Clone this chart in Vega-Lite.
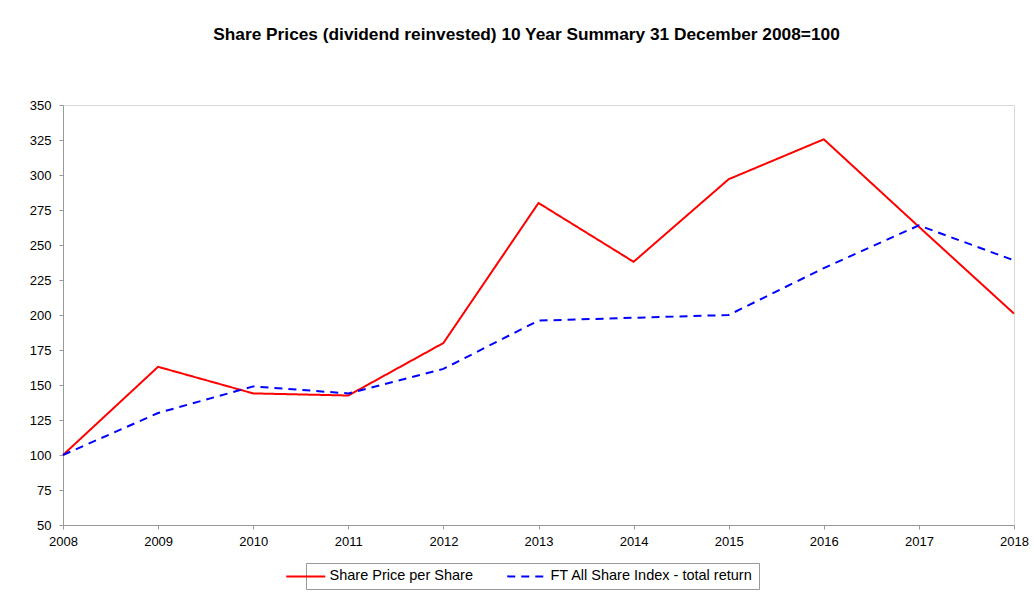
{
  "$schema": "https://vega.github.io/schema/vega-lite/v6.json",
  "autosize": "none",
  "width": 951,
  "height": 420,
  "padding": {"left": 63, "top": 105, "right": 20, "bottom": 70},
  "background": "white",
  "title": {
    "text": "Share Prices (dividend reinvested) 10 Year Summary 31 December 2008=100",
    "font": "Liberation Sans",
    "fontSize": 17.3,
    "fontWeight": "bold",
    "color": "black",
    "anchor": "middle",
    "offset": 56,
    "dx": -12
  },
  "config": {
    "font": "Liberation Sans",
    "view": {"stroke": "#d8d8d8", "strokeWidth": 1}
  },
  "data": {
    "values": [
      {"year": 2008, "series": "Share Price per Share", "value": 100},
      {"year": 2009, "series": "Share Price per Share", "value": 163},
      {"year": 2010, "series": "Share Price per Share", "value": 144},
      {"year": 2011, "series": "Share Price per Share", "value": 142.5},
      {"year": 2012, "series": "Share Price per Share", "value": 180},
      {"year": 2013, "series": "Share Price per Share", "value": 280},
      {"year": 2014, "series": "Share Price per Share", "value": 238},
      {"year": 2015, "series": "Share Price per Share", "value": 297},
      {"year": 2016, "series": "Share Price per Share", "value": 325.5},
      {"year": 2017, "series": "Share Price per Share", "value": 263},
      {"year": 2018, "series": "Share Price per Share", "value": 201},
      {"year": 2008, "series": "FT All Share Index - total return", "value": 100},
      {"year": 2009, "series": "FT All Share Index - total return", "value": 130},
      {"year": 2010, "series": "FT All Share Index - total return", "value": 149},
      {"year": 2011, "series": "FT All Share Index - total return", "value": 144},
      {"year": 2012, "series": "FT All Share Index - total return", "value": 161.5},
      {"year": 2013, "series": "FT All Share Index - total return", "value": 196},
      {"year": 2014, "series": "FT All Share Index - total return", "value": 198},
      {"year": 2015, "series": "FT All Share Index - total return", "value": 200},
      {"year": 2016, "series": "FT All Share Index - total return", "value": 233.5},
      {"year": 2017, "series": "FT All Share Index - total return", "value": 264},
      {"year": 2018, "series": "FT All Share Index - total return", "value": 239}
    ]
  },
  "mark": {"type": "line", "strokeWidth": 2},
  "encoding": {
    "x": {
      "field": "year",
      "type": "quantitative",
      "scale": {"domain": [2008, 2018], "nice": false, "zero": false},
      "axis": {
        "title": null,
        "values": [2008, 2009, 2010, 2011, 2012, 2013, 2014, 2015, 2016, 2017, 2018],
        "format": "d",
        "grid": false,
        "domainColor": "#999999",
        "tickColor": "#999999",
        "tickSize": 4,
        "labelFontSize": 13,
        "labelColor": "black",
        "labelPadding": 6,
        "labelFlush": false
      }
    },
    "y": {
      "field": "value",
      "type": "quantitative",
      "scale": {"domain": [50, 350], "nice": false, "zero": false},
      "axis": {
        "title": null,
        "values": [50, 75, 100, 125, 150, 175, 200, 225, 250, 275, 300, 325, 350],
        "grid": false,
        "domainColor": "#999999",
        "tickColor": "#999999",
        "tickSize": 4,
        "labelFontSize": 13,
        "labelColor": "black",
        "labelPadding": 8
      }
    },
    "color": {
      "field": "series",
      "type": "nominal",
      "scale": {
        "domain": ["Share Price per Share", "FT All Share Index - total return"],
        "range": ["#ff0000", "#0000ff"]
      },
      "legend": {
        "title": null,
        "orient": "none",
        "legendX": 243,
        "legendY": 458,
        "direction": "horizontal",
        "symbolType": "M-5.5,0H1",
        "symbolSize": 144,
        "symbolStrokeWidth": 2,
        "labelFontSize": 14.5,
        "labelColor": "black",
        "labelOffset": 3,
        "labelLimit": 400,
        "columnPadding": 30,
        "strokeColor": "#999999",
        "padding": 6,
        "fillColor": "white"
      }
    },
    "strokeDash": {
      "field": "series",
      "type": "nominal",
      "scale": {
        "domain": ["Share Price per Share", "FT All Share Index - total return"],
        "range": [[1, 0], [8, 6]]
      },
      "legend": null
    }
  }
}
